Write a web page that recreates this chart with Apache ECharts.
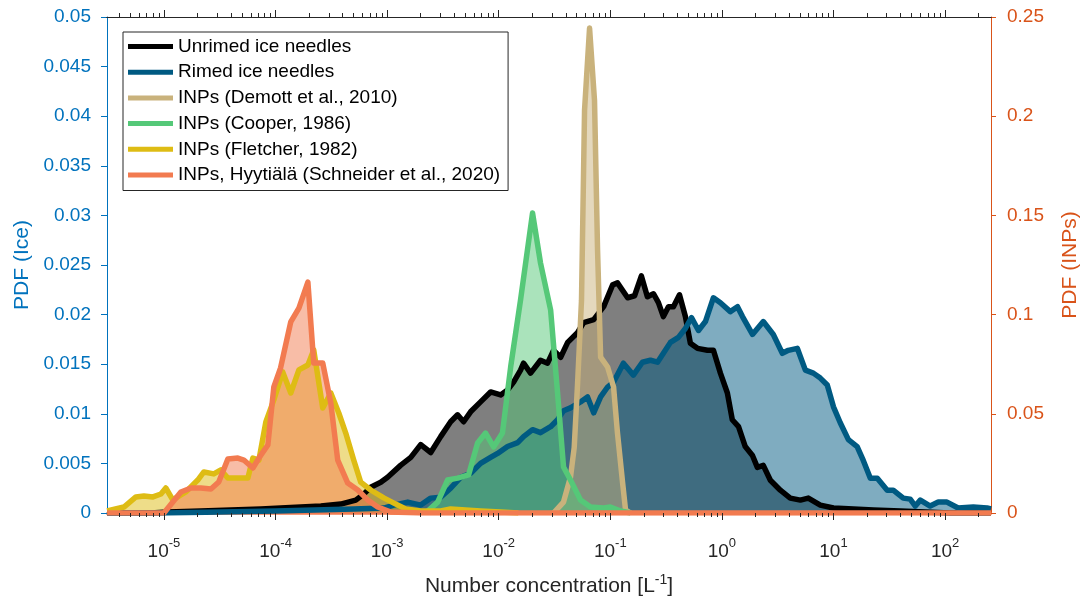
<!DOCTYPE html>
<html>
<head>
<meta charset="utf-8">
<title>PDF ice needles and INPs</title>
<script src="https://cdn.jsdelivr.net/npm/echarts@6.0.0/dist/echarts.min.js"></script>
<style>
  html, body { margin: 0; padding: 0; background: #fff; }
  #chart { width: 1081px; height: 599px; }
</style>
</head>
<body>
<div id="chart"></div>
<script>
// values: [number concentration (L^-1), pdf]
var unrimed = [[3.1e-6,0],[7.6e-6,0],[1.09e-5,0.0001],[2.14e-5,0.0002],[3.98e-5,0.0003],[7.39e-5,0.0004],[1.11e-4,0.0005],[1.68e-4,0.0006],[2.55e-4,0.0007],[3.84e-4,0.0009],[5.24e-4,0.0013],[6.17e-4,0.0019],[7.13e-4,0.0026],[8.77e-4,0.0031],[1.01e-3,0.0036],[1.32e-3,0.0048],[1.63e-3,0.0056],[2.0e-3,0.0069],[2.46e-3,0.0061],[3.02e-3,0.0077],[3.71e-3,0.0092],[4.28e-3,0.0099],[4.85e-3,0.0092],[5.6e-3,0.0102],[6.88e-3,0.0112],[8.46e-3,0.0122],[1.04e-2,0.0119],[1.2e-2,0.0124],[1.36e-2,0.0132],[1.57e-2,0.0144],[1.67e-2,0.0151],[1.93e-2,0.0141],[2.37e-2,0.0154],[2.74e-2,0.0151],[3.1e-2,0.0164],[3.59e-2,0.0157],[4.15e-2,0.0172],[5.1e-2,0.0182],[5.77e-2,0.0192],[7.1e-2,0.0195],[8.72e-2,0.0208],[1.05e-1,0.023],[1.16e-1,0.0232],[1.43e-1,0.0217],[1.65e-1,0.0219],[1.9e-1,0.0239],[2.15e-1,0.0218],[2.44e-1,0.0221],[2.7e-1,0.0212],[2.99e-1,0.0198],[3.32e-1,0.0208],[3.68e-1,0.0208],[4.17e-1,0.022],[4.71e-1,0.0198],[5.22e-1,0.0171],[6.04e-1,0.0166],[7.43e-1,0.0164],[8.4e-1,0.0164],[9.7e-1,0.0141],[1.12,0.0121],[1.24,0.0094],[1.41,0.0087],[1.62,0.0067],[1.88,0.0058],[2.08,0.0046],[2.35,0.0048],[2.72,0.0033],[3.34,0.0023],[4.1,0.0015],[5.05,0.0013],[5.95,0.0015],[7.62,0.0008],[10,0.0005],[15.1,0.0004],[22.8,0.0003],[39.8,0.0002],[111,0],[258,0]];

var rimed = [[3.1e-6,0],[1e-5,0],[1e-4,0.0002],[5e-4,0.0004],[9.33e-4,0.0005],[1.15e-3,0.0008],[1.53e-3,0.0011],[2.0e-3,0.0008],[2.46e-3,0.0015],[3.02e-3,0.0016],[3.71e-3,0.0025],[4.56e-3,0.0036],[5.6e-3,0.004],[6.88e-3,0.005],[8.46e-3,0.0056],[9.77e-3,0.006],[1.2e-2,0.0067],[1.48e-2,0.0071],[1.67e-2,0.0077],[2.01e-2,0.0084],[2.37e-2,0.0081],[2.92e-2,0.0087],[3.37e-2,0.0094],[3.81e-2,0.0103],[4.4e-2,0.0106],[5.41e-2,0.0112],[6.25e-2,0.0117],[7.1e-2,0.0101],[8.19e-2,0.0117],[9.46e-2,0.0127],[1.07e-1,0.0132],[1.18e-1,0.0141],[1.31e-1,0.0151],[1.61e-1,0.0139],[1.94e-1,0.0152],[2.29e-1,0.0154],[2.65e-1,0.0152],[2.99e-1,0.0161],[3.46e-1,0.0172],[4.08e-1,0.0177],[4.71e-1,0.0186],[5.34e-1,0.0197],[6.17e-1,0.0184],[7.12e-1,0.0193],[8.4e-1,0.0217],[9.7e-1,0.0212],[1.19,0.0203],[1.38,0.0208],[1.53,0.0198],[1.88,0.018],[2.35,0.0193],[2.89,0.018],[3.48,0.0161],[3.94,0.0164],[4.74,0.0166],[5.6,0.0144],[6.6,0.0141],[7.62,0.0136],[8.8,0.0129],[10.0,0.0107],[11.5,0.0091],[13.6,0.0074],[16.3,0.0067],[18.5,0.0053],[21.4,0.0035],[24.7,0.0035],[30.3,0.0023],[34.3,0.0023],[42.2,0.0015],[48.7,0.0014],[54.1,0.0007],[60,0.0013],[73.6,0.0007],[86.9,0.0011],[104,0.0011],[131,0.0005],[179,0.0006],[238,0.0005],[258,0.0004]];

var demott = [[3.1e-2,0],[3.81e-2,0.0055],[4.4e-2,0.0181],[4.75e-2,0.033],[5.09e-2,0.065],[5.52e-2,0.107],[5.88e-2,0.203],[6.52e-2,0.2444],[7.22e-2,0.208],[7.69e-2,0.1326],[8.19e-2,0.0786],[9.46e-2,0.0736],[1.07e-1,0.0635],[1.16e-1,0.0403],[1.29e-1,0.0151],[1.37e-1,0.0015],[1.52e-1,0]];

var cooper = [[2.21e-3,0],[2.84e-3,0.0055],[3.48e-3,0.0166],[4.28e-3,0.0176],[5.37e-3,0.0192],[6.47e-3,0.0353],[7.63e-3,0.0403],[9.0e-3,0.0333],[1.08e-2,0.0403],[1.28e-2,0.0736],[1.57e-2,0.1074],[2.01e-2,0.1512],[2.37e-2,0.126],[2.92e-2,0.1023],[3.37e-2,0.0605],[3.81e-2,0.0232],[4.4e-2,0.0166],[5.41e-2,0.0066],[6.65e-2,0.003],[8.72e-2,0.0025],[1.0e-1,0.003],[1.24e-1,0.001],[1.52e-1,0]];

var fletcher = [[3.1e-6,0.001],[4.38e-6,0.003],[5.61e-6,0.0081],[6.62e-6,0.0086],[7.97e-6,0.0081],[9.4e-6,0.0096],[1.04e-5,0.0126],[1.2e-5,0.0066],[1.57e-5,0.0106],[2.01e-5,0.0166],[2.28e-5,0.0207],[2.8e-5,0.0197],[3.24e-5,0.0217],[3.74e-5,0.0176],[5.65e-5,0.0176],[6.27e-5,0.0277],[7.1e-5,0.0267],[8.19e-5,0.0459],[9.66e-5,0.057],[1.16e-4,0.0711],[1.37e-4,0.0605],[1.62e-4,0.0721],[1.95e-4,0.0746],[2.2e-4,0.0822],[2.65e-4,0.0529],[3.13e-4,0.0605],[3.69e-4,0.0504],[4.26e-4,0.0403],[5.02e-4,0.0267],[5.8e-4,0.0156],[7.13e-4,0.0116],[9.33e-4,0.0076],[1.15e-3,0.005],[1.47e-3,0.002],[2.0e-3,0.001],[3.02e-3,0.001],[3.71e-3,0.002],[5.05e-3,0.0015],[6.88e-3,0.001],[1.04e-2,0.0005],[1.5e-2,0]];

var schneider = [[3.1e-6,0],[1.0e-5,0],[1.42e-5,0.0106],[1.75e-5,0.0126],[2.14e-5,0.0126],[2.64e-5,0.0121],[3.1e-5,0.0156],[3.74e-5,0.0272],[4.6e-5,0.0277],[5.2e-5,0.0267],[6.27e-5,0.0227],[7.39e-5,0.0292],[8.54e-5,0.0343],[9.66e-5,0.0635],[1.11e-4,0.0731],[1.37e-4,0.0963],[1.62e-4,0.1033],[1.95e-4,0.1164],[2.2e-4,0.0756],[2.65e-4,0.0756],[3.13e-4,0.0554],[3.61e-4,0.0267],[4.44e-4,0.0151],[5.46e-4,0.0116],[6.7e-4,0.0066],[8.24e-4,0.003],[1.08e-3,0.0005],[2e-3,0],[258,0]];

var seriesNames = ['Unrimed ice needles', 'Rimed ice needles', 'INPs (Demott et al., 2010)',
  'INPs (Cooper, 1986)', 'INPs (Fletcher, 1982)', 'INPs, Hyytiälä (Schneider et al., 2020)'];
var seriesColors = ['#000000', '#005A82', '#C9B27C', '#55C878', '#DEBC14', '#F27B50'];
var majorExponents = [-5, -4, -3, -2, -1, 0, 1, 2];

var xMin = 3.09e-6, xMax = 258;
var lMin = Math.log10(xMin), lMax = Math.log10(xMax);

// log-spaced minor tick positions (in decades) for the tick-only axes
var minorTicks = [];
for (var n = -6; n <= 2; n++) {
  for (var k = 2; k <= 9; k++) {
    var t = n + Math.log10(k);
    if (t > lMin && t < lMax) minorTicks.push(t);
  }
}

var FONT = 'Liberation Sans, Arial, Helvetica, sans-serif';
var AX = '#262626';
var BLUE = '#0072BD';
var ORANGE = '#D95319';

function tickAxis(pos, ticks, len, labels) {
  return {
    type: 'value', position: pos, min: lMin, max: lMax, z: 4,
    axisLine: { show: pos === 'top', onZero: false, lineStyle: { color: AX, width: 1 } },
    axisTick: { show: true, customValues: ticks, length: len, lineStyle: { color: AX, width: 1 } },
    axisLabel: labels ? {
      show: true, customValues: majorExponents, margin: 24,
      formatter: function (v) { return '{b|10}{s|' + Math.round(v) + '}'; },
      rich: {
        b: { fontSize: 19, fontFamily: FONT, color: AX, lineHeight: 24, verticalAlign: 'bottom' },
        s: { fontSize: 13, fontFamily: FONT, color: AX, lineHeight: 14, verticalAlign: 'top' }
      }
    } : { show: false },
    splitLine: { show: false }
  };
}

function areaSeries(i, data, yIdx) {
  return {
    name: seriesNames[i], type: 'line', xAxisIndex: 0, yAxisIndex: yIdx, data: data,
    symbol: 'none', showSymbol: false,
    lineStyle: { color: seriesColors[i], width: 5.5, join: 'round' },
    itemStyle: { color: seriesColors[i] },
    areaStyle: { color: seriesColors[i], opacity: 0.5 },
    emphasis: { disabled: true }
  };
}

var chart = echarts.init(document.getElementById('chart'));
chart.setOption({
  animation: false,
  backgroundColor: '#fff',
  grid: { left: 107, right: 90, top: 17, bottom: 86, containLabel: false, outerBoundsMode: 'none' },
  legend: {
    data: seriesNames.map(function (nm, i) { return { name: nm, itemStyle: { color: seriesColors[i] } }; }),
    orient: 'vertical', left: 123, top: 32, icon: 'rect',
    itemWidth: 45, itemHeight: 5, itemGap: 6.7,
    padding: [5, 8, 6, 5],
    backgroundColor: '#fff', borderColor: AX, borderWidth: 1, borderRadius: 0,
    selectedMode: false,
    textStyle: { fontSize: 19, fontFamily: FONT, color: '#000', lineHeight: 19 }
  },
  xAxis: [
    {
      type: 'log', logBase: 10, min: xMin, max: xMax, position: 'bottom', z: 3,
      axisLine: { show: true, onZero: false, lineStyle: { color: '#F27B50', width: 2.5 } },
      axisTick: { show: false }, axisLabel: { show: false }, splitLine: { show: false },
      name: '{b|Number concentration [L}{s|-1}{b|]}',
      nameLocation: 'middle', nameGap: 60,
      nameTextStyle: {
        rich: {
          b: { fontSize: 21, fontFamily: FONT, color: AX, lineHeight: 24, verticalAlign: 'bottom' },
          s: { fontSize: 14, fontFamily: FONT, color: AX, lineHeight: 14, verticalAlign: 'top' }
        }
      }
    },
    tickAxis('bottom', majorExponents, 7, true),
    tickAxis('bottom', minorTicks, 4, false),
    tickAxis('top', majorExponents, 7, false),
    tickAxis('top', minorTicks, 4, false)
  ],
  yAxis: [
    {
      type: 'value', position: 'left', min: 0, max: 0.05, interval: 0.005, z: 3,
      axisLine: { show: true, onZero: false, lineStyle: { color: BLUE, width: 1 } },
      axisTick: { show: true, length: 6, lineStyle: { color: BLUE } },
      axisLabel: { fontSize: 19, fontFamily: FONT, color: BLUE, margin: 16 },
      splitLine: { show: false },
      name: 'PDF (Ice)', nameLocation: 'middle', nameGap: 74,
      nameTextStyle: { fontSize: 21, fontFamily: FONT, color: BLUE }
    },
    {
      type: 'value', position: 'right', min: 0, max: 0.25, interval: 0.05, z: 3,
      axisLine: { show: true, onZero: false, lineStyle: { color: ORANGE, width: 1 } },
      axisTick: { show: true, length: 5, lineStyle: { color: ORANGE } },
      axisLabel: { fontSize: 19, fontFamily: FONT, color: ORANGE, margin: 16 },
      splitLine: { show: false },
      name: 'PDF (INPs)', nameLocation: 'middle', nameGap: 69,
      nameTextStyle: { fontSize: 21, fontFamily: FONT, color: ORANGE }
    }
  ],
  series: [
    areaSeries(0, unrimed, 0),
    areaSeries(1, rimed, 0),
    areaSeries(2, demott, 1),
    areaSeries(3, cooper, 1),
    areaSeries(4, fletcher, 1),
    areaSeries(5, schneider, 1)
  ]
});
</script>
</body>
</html>
